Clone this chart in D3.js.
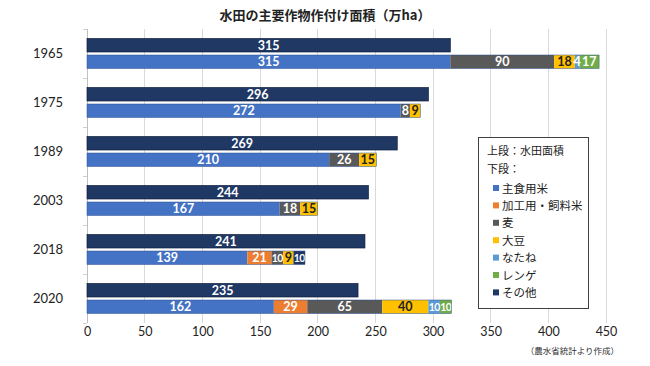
<!DOCTYPE html>
<html><head><meta charset="utf-8">
<script src="https://cdn.jsdelivr.net/npm/d3@7"></script>
<style>
body{margin:0;background:#fff;}
svg{display:block;}
</style></head>
<body>
<svg id="c" width="650" height="366"></svg>
<script>
const years = ["1965","1975","1989","2003","2018","2020"];
const paddyArea = [315, 296, 269, 244, 241, 235];
const seriesNames = ["主食用米","加工用・飼料米","麦","大豆","なたね","レンゲ","その他"];
const stapleRice = [315, 272, 210, 167, 139, 162];
const processedRice = [0, 0, 0, 0, 21, 29];
const wheat = [90, 8, 26, 18, 10, 65];
const soybean = [18, 9, 15, 15, 9, 40];
const rapeseed = [4, 0, 0, 0, 0, 10];
const renge = [17, 0, 0, 0, 0, 10];
const others = [0, 0, 0, 0, 10, 0];
const xTicks = [0,50,100,150,200,250,300,350,400,450];
const title = "水田の主要作物作付け面積（万ha）";
const source = "（農水省統計より作成）";

const colors = ["#4472C4","#ED7D31","#595959","#FFC000","#5B9BD5","#70AD47","#203864"];
const labelColors = ["#fff","#fff","#fff","#222","#fff","#fff","#fff"];
const topColor = "#203864";
const seriesData = [stapleRice, processedRice, wheat, soybean, rapeseed, renge, others];

const svg = d3.select("#c");
const jp = "'Noto Sans CJK JP','Noto Sans',sans-serif";
const num = "Lato,'Noto Sans',sans-serif";

const x = d3.scaleLinear().domain([0,450]).range([87,606]);
const y = d3.scaleBand().domain(years).range([29,323]);

// title
svg.append("text").attr("x",325).attr("y",20).attr("text-anchor","middle")
  .attr("font-family",jp).attr("font-size",13).attr("font-weight","bold").attr("fill","#222").text(title);

// gridlines
svg.append("g").selectAll("line").data(xTicks).join("line")
  .attr("x1",d=>x(d)).attr("x2",d=>x(d)).attr("y1",29).attr("y2",323)
  .attr("stroke",d=>d===0?"#bfbfbf":"#d9d9d9").attr("stroke-width",1).attr("shape-rendering","crispEdges");

// y ticks
svg.append("g").selectAll("line").data(years.concat(["end"])).join("line")
  .attr("x1",83).attr("x2",87)
  .attr("y1",(d,i)=>29+i*y.bandwidth()).attr("y2",(d,i)=>29+i*y.bandwidth())
  .attr("stroke","#d0d0d0").attr("shape-rendering","crispEdges");

// x axis labels
const xAxis = d3.axisBottom(x).tickValues(xTicks).tickSize(0).tickPadding(0);
const gx = svg.append("g").attr("transform","translate(0,323)").call(xAxis);
gx.select(".domain").remove();
gx.selectAll("text").attr("font-family",num).attr("font-size",12.5).attr("fill","#222").attr("dy","13");

// year labels
svg.append("g").selectAll("text").data(years).join("text")
  .attr("x",48).attr("y",d=>y(d)+y.bandwidth()/2+4.5).attr("text-anchor","middle")
  .attr("font-family",num).attr("font-size",13).attr("fill","#222").text(d=>d);

const barH = 13.5, gap = 3;
function topY(d){ return y(d)+y.bandwidth()/2 - gap/2 - barH; }
function botY(d){ return y(d)+y.bandwidth()/2 + gap/2; }

// top bars
svg.append("g").selectAll("rect").data(years).join("rect")
  .attr("x",x(0)).attr("y",d=>topY(d)).attr("width",(d,i)=>x(paddyArea[i])-x(0)).attr("height",barH)
  .attr("fill",topColor).attr("stroke","#0f1e3c").attr("stroke-width",0.7);
svg.append("g").selectAll("text").data(years).join("text")
  .attr("x",(d,i)=>(x(0)+x(paddyArea[i]))/2).attr("y",d=>topY(d)+barH/2+4.5)
  .attr("text-anchor","middle").attr("font-family",num).attr("font-weight","bold").attr("font-size",12.5)
  .attr("fill","#fff").text((d,i)=>paddyArea[i]);

// stacked bottom bars
const rows = years.map((yr,i)=>{ const o={year:yr}; seriesNames.forEach((s,k)=>o[s]=seriesData[k][i]); return o; });
const stack = d3.stack().keys(seriesNames)(rows);
const gs = svg.append("g");
stack.forEach((layer,k)=>{
  gs.append("g").selectAll("rect").data(layer.filter(d=>d[1]-d[0]>0)).join("rect")
    .attr("x",d=>x(d[0])).attr("y",d=>botY(d.data.year)).attr("width",d=>x(d[1])-x(d[0])).attr("height",barH)
    .attr("fill",colors[k]);
});
stack.forEach((layer,k)=>{
  gs.append("g").selectAll("text").data(layer.filter(d=>d[1]-d[0]>0)).join("text")
    .attr("x",d=>(x(d[0])+x(d[1]))/2).attr("y",d=>botY(d.data.year)+barH/2+4.5)
    .attr("text-anchor","middle").attr("font-family",num).attr("font-weight","bold")
    .attr("font-size",d=>(x(d[1])-x(d[0]))<13 && String(d[1]-d[0]).length>1 ? 10.5 : 12.5)
    .attr("letter-spacing",d=>(x(d[1])-x(d[0]))<13 && String(d[1]-d[0]).length>1 ? -0.6 : 0)
    .attr("fill",labelColors[k]).text(d=>d[1]-d[0]);
});
// outline of bottom bars
svg.append("g").selectAll("rect").data(years).join("rect")
  .attr("x",x(0)).attr("y",d=>botY(d)).attr("width",(d,i)=>x(d3.sum(seriesData,s=>s[i]))-x(0)).attr("height",barH)
  .attr("fill","none").attr("stroke","#2f528f").attr("stroke-width",0.5);

// legend
const lg = svg.append("g");
lg.append("rect").attr("x",478.5).attr("y",137.5).attr("width",110).attr("height",171)
  .attr("fill","#fff").attr("stroke","#404040").attr("stroke-width",1);
lg.append("text").attr("x",487).attr("y",155).attr("font-family",jp).attr("font-size",11).attr("fill","#222").text("上段：水田面積");
lg.append("text").attr("x",487).attr("y",173).attr("font-family",jp).attr("font-size",11).attr("fill","#222").text("下段：");
seriesNames.forEach((s,k)=>{
  const yy = 188 + k*17.4;
  lg.append("rect").attr("x",493).attr("y",yy-3).attr("width",6).attr("height",6).attr("fill",colors[k]);
  lg.append("text").attr("x",502).attr("y",yy+4.5).attr("font-family",jp).attr("font-size",11.5).attr("fill","#222").text(s);
});

// source
svg.append("text").attr("x",619).attr("y",354).attr("text-anchor","end")
  .attr("font-family",jp).attr("font-size",8.5).attr("fill","#333").text(source);
</script>
</body></html>
